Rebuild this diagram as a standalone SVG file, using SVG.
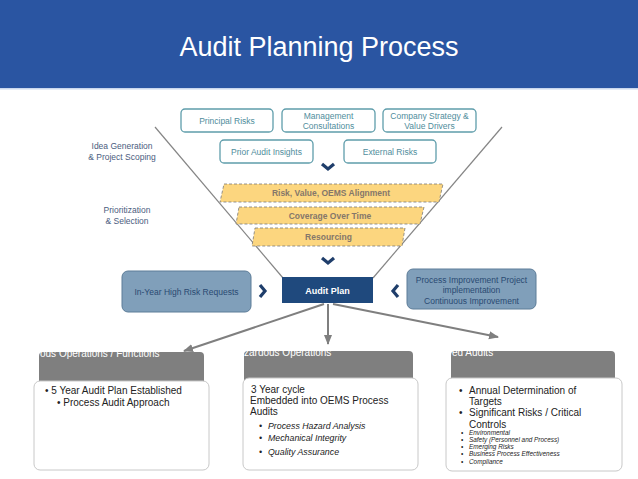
<svg xmlns="http://www.w3.org/2000/svg" width="638" height="479" viewBox="0 0 638 479">
<defs>
<style>
text{font-family:"Liberation Sans",Arial,sans-serif}
.src rect{fill:#fff;stroke:#5F9DAB;stroke-width:1.3}
.src text{fill:#4F8D9C;font-size:8.5px;text-anchor:middle}
.lbl{fill:#4A5C7E;font-size:8.5px;text-anchor:middle}
.band polygon{fill:#FCD67F;stroke:#7A7A7A;stroke-width:0.8;stroke-dasharray:3 2}
.band text{fill:#85776A;font-size:8.5px;font-weight:bold;text-anchor:middle}
.chev{fill:none;stroke:#1F3E6B;stroke-width:3.2;stroke-linejoin:miter}
.side rect{fill:#809FBA;stroke:#5C7C98;stroke-width:1}
.side text{fill:#2A4A72;font-size:8.5px;text-anchor:middle}
.funnel{stroke:#858585;stroke-width:1.2;fill:none}
.conn{stroke:#7F7F7F;stroke-width:2;fill:none}
.ghead{fill:#7F7F7F}
.ghead text{fill:#fff;font-size:10px}
.card{fill:#fff;stroke:#C8C8C8;stroke-width:1}
.body{fill:#222;font-size:10px}
.it{font-style:italic;fill:#222;font-size:8.8px}
.tiny{font-style:italic;fill:#222;font-size:6.4px}
</style>
<marker id="ah" viewBox="0 0 10 10" refX="9" refY="5" markerWidth="5" markerHeight="5" orient="auto" markerUnits="strokeWidth">
<path d="M0,1 L10,5 L0,9 Z" fill="#7F7F7F"/>
</marker>
</defs>

<g id="header">
<rect x="0" y="0" width="638" height="88" fill="#2A55A2"/>
<rect x="0" y="88" width="638" height="1.5" fill="#C9D7EE"/>
<text x="319" y="56" font-size="27" fill="#fff" text-anchor="middle">Audit Planning Process</text>
</g>

<g id="funnel">
<line class="funnel" x1="155" y1="127" x2="283" y2="278"/>
<line class="funnel" x1="502" y1="127" x2="373" y2="278"/>
</g>

<g id="labels">
<text class="lbl" x="122" y="149">Idea Generation</text>
<text class="lbl" x="122" y="160">&amp; Project Scoping</text>
<text class="lbl" x="127" y="213">Prioritization</text>
<text class="lbl" x="127" y="224">&amp; Selection</text>
</g>

<g id="principal-risks" class="src">
<rect x="181" y="109" width="92" height="23" rx="4"/>
<text x="227" y="124">Principal Risks</text>
</g>
<g id="management-consultations" class="src">
<rect x="282" y="109" width="93" height="23" rx="4"/>
<text x="328.5" y="119">Management</text>
<text x="328.5" y="129">Consultations</text>
</g>
<g id="company-strategy" class="src">
<rect x="383" y="109" width="93" height="23" rx="4"/>
<text x="429.5" y="119">Company Strategy &amp;</text>
<text x="429.5" y="129">Value Drivers</text>
</g>
<g id="prior-audit-insights" class="src">
<rect x="220" y="140" width="93" height="23" rx="4"/>
<text x="266.5" y="155">Prior Audit Insights</text>
</g>
<g id="external-risks" class="src">
<rect x="344" y="140" width="92" height="23" rx="4"/>
<text x="390" y="155">External Risks</text>
</g>

<path class="chev" d="M322,164 L328,169 L334,164"/>

<g id="risk-value" class="band">
<polygon points="224,184 443,184 439,202 220,202"/>
<text x="331" y="196">Risk, Value, OEMS Alignment</text>
</g>
<g id="coverage" class="band">
<polygon points="239,207 424,207 420,224 236,224"/>
<text x="330" y="219">Coverage Over Time</text>
</g>
<g id="resourcing" class="band">
<polygon points="255,228 405,228 402,246 252,246"/>
<text x="328.5" y="240">Resourcing</text>
</g>

<path class="chev" d="M322,258 L328,263 L334,258"/>

<g id="in-year" class="side">
<rect x="122" y="271" width="129" height="41" rx="6"/>
<text x="186.5" y="295">In-Year High Risk Requests</text>
</g>
<path class="chev" d="M260,285 L265,291 L260,297"/>

<g id="audit-plan">
<rect x="282" y="277" width="91" height="26" fill="#1F497D"/>
<text x="327.5" y="294" font-size="9" font-weight="bold" fill="#fff" text-anchor="middle">Audit Plan</text>
</g>

<path class="chev" d="M398,285 L393,291 L398,297"/>
<g id="process-improvement" class="side">
<rect x="407" y="269" width="129" height="40" rx="6"/>
<text x="471.5" y="283">Process Improvement Project</text>
<text x="471.5" y="293">implementation</text>
<text x="471.5" y="304">Continuous Improvement</text>
</g>

<g id="connectors">
<line class="conn" x1="324" y1="304" x2="184" y2="351" marker-end="url(#ah)"/>
<line class="conn" x1="328" y1="304" x2="328" y2="344" marker-end="url(#ah)"/>
<line class="conn" x1="333" y1="304" x2="498" y2="337" marker-end="url(#ah)"/>
</g>

<g id="various-operations">
<g class="ghead">
<rect x="39" y="352" width="165" height="40" rx="4"/>
<text x="40" y="357">ous Operations / Functions</text>
</g>
<rect class="card" x="34" y="381" width="175" height="89" rx="6"/>
<text class="body" x="45" y="394">• 5 Year Audit Plan Established</text>
<text class="body" x="57" y="406">• Process Audit Approach</text>
</g>

<g id="hazardous-operations">
<g class="ghead">
<rect x="244" y="351" width="169" height="40" rx="4"/>
<text x="244" y="356">zardous Operations</text>
</g>
<rect class="card" x="243" y="378" width="175" height="92" rx="6"/>
<text class="body" x="251" y="393">3 Year cycle</text>
<text class="body" x="250" y="404">Embedded into OEMS Process</text>
<text class="body" x="250" y="415">Audits</text>
<text class="it" x="259" y="429">•</text><text class="it" x="268" y="429">Process Hazard Analysis</text>
<text class="it" x="259" y="441">•</text><text class="it" x="268" y="441">Mechanical Integrity</text>
<text class="it" x="259" y="455">•</text><text class="it" x="268" y="455">Quality Assurance</text>
</g>

<g id="targeted-audits">
<g class="ghead">
<rect x="451" y="351" width="164" height="40" rx="4"/>
<text x="452" y="356">ed Audits</text>
</g>
<rect class="card" x="446" y="378" width="176" height="93" rx="6"/>
<text class="body" x="459" y="394">•</text><text class="body" x="469" y="394">Annual Determination of</text>
<text class="body" x="469" y="405">Targets</text>
<text class="body" x="459" y="416">•</text><text class="body" x="469" y="416">Significant Risks / Critical</text>
<text class="body" x="469" y="428">Controls</text>
<text class="tiny" x="461" y="435">•</text><text class="tiny" x="469" y="435">Environmental</text>
<text class="tiny" x="461" y="442">•</text><text class="tiny" x="469" y="442">Safety (Personnel and Process)</text>
<text class="tiny" x="461" y="449">•</text><text class="tiny" x="469" y="449">Emerging Risks</text>
<text class="tiny" x="461" y="456">•</text><text class="tiny" x="469" y="456">Business Process Effectiveness</text>
<text class="tiny" x="461" y="464">•</text><text class="tiny" x="469" y="464">Compliance</text>
</g>
</svg>
